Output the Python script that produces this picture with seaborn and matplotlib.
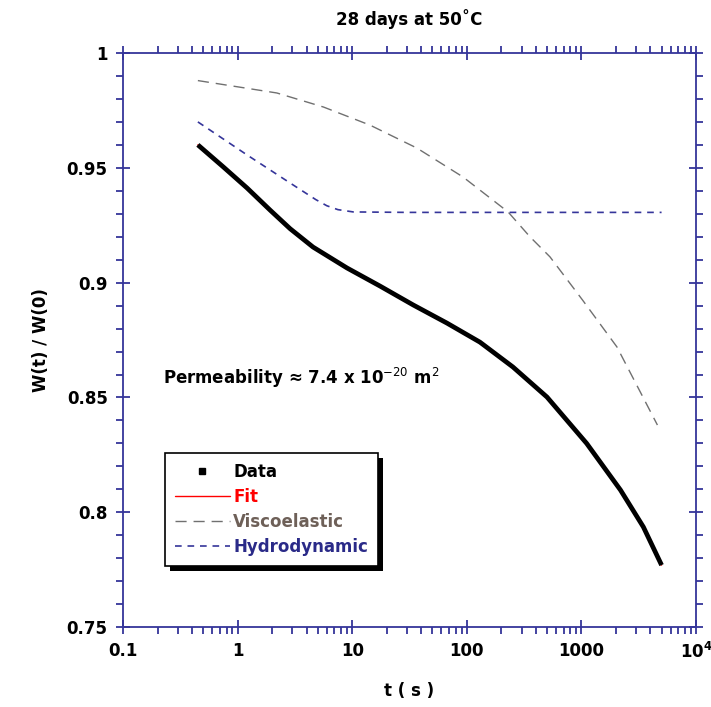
import numpy as np
import pandas as pd
import matplotlib
matplotlib.use("Agg")
import matplotlib.pyplot as plt
import matplotlib.ticker as mticker
import matplotlib.patheffects as pe
from matplotlib.lines import Line2D
import seaborn as sns

# values
data_t = [0.45, 0.75, 1.21, 1.92, 2.87, 4.55, 9.0, 17.5, 34, 67, 130, 252, 500, 1110, 2190, 3470, 5000]
data_w = [0.960, 0.9504, 0.9412, 0.9316, 0.9235, 0.9155, 0.9064, 0.8985, 0.8903, 0.8824, 0.8741,
          0.8633, 0.8502, 0.830, 0.8097, 0.7936, 0.777]

visco_t = [0.45, 2.2, 5.6, 14.3, 36.7, 92.7, 229, 355, 532, 1023, 2040, 4600]
visco_w = [0.988, 0.9826, 0.9765, 0.9686, 0.9586, 0.946, 0.9308, 0.920, 0.9112, 0.8924, 0.872, 0.838]

hydro_t = [0.45, 1.21, 2.87, 4.8, 6.0, 7.5, 10.2, 30, 100, 1000, 5000]
hydro_w = [0.970, 0.9556, 0.9434, 0.9362, 0.9335, 0.9318, 0.9308, 0.9306, 0.9306, 0.9306, 0.9306]

x_ticks = [0.1, 1, 10, 100, 1000, 10000]
x_labels = ["0.1", "1", "10", "100", "1000", r"$\mathregular{10^4}$"]
y_ticks = [0.75, 0.8, 0.85, 0.9, 0.95, 1.0]
y_labels = ["0.75", "0.8", "0.85", "0.9", "0.95", "1"]

axis_col = "#35359a"
visco_col = "#707070"

sns.set_style("white")
plt.rcParams["font.family"] = ["DejaVu Sans"]
plt.rcParams["text.color"] = "black"
plt.rcParams["axes.labelcolor"] = "black"
plt.rcParams["xtick.labelcolor"] = "black"
plt.rcParams["ytick.labelcolor"] = "black"

fig = plt.figure(figsize=(7.11, 7.07), dpi=100)
ax = fig.add_axes([0.173, 0.113, 0.806, 0.812])

df_data = pd.DataFrame({"t": data_t, "w": data_w})
df_visco = pd.DataFrame({"t": visco_t, "w": visco_w})
df_hydro = pd.DataFrame({"t": hydro_t, "w": hydro_w})

sns.lineplot(data=df_visco, x="t", y="w", ax=ax, color=visco_col, lw=1.0,
             linestyle=(0, (8, 5)), legend=False)
sns.lineplot(data=df_hydro, x="t", y="w", ax=ax, color=axis_col, lw=1.2,
             linestyle=(0, (4, 3.5)), legend=False)
sns.lineplot(data=df_data, x="t", y="w", ax=ax, color="red", lw=1.0, legend=False)
sns.lineplot(data=df_data, x="t", y="w", ax=ax, color="black", lw=3.4,
             solid_capstyle="butt", solid_joinstyle="round", legend=False)

ax.set_xscale("log")
ax.set_xlim(0.1, 10000)
ax.set_ylim(0.75, 1.0)
ax.set_xticks(x_ticks)
ax.set_xticklabels(x_labels)
ax.xaxis.set_minor_locator(mticker.LogLocator(base=10, subs=np.arange(2, 10)))
ax.xaxis.set_minor_formatter(mticker.NullFormatter())
ax.set_yticks(y_ticks)
ax.set_yticklabels(y_labels)
ax.yaxis.set_minor_locator(mticker.MultipleLocator(0.01))

for s in ax.spines.values():
    s.set_color(axis_col)
    s.set_linewidth(1.3)
    s.set_visible(True)
ax.tick_params(which="major", direction="inout", length=10, width=1.3, color=axis_col,
               bottom=True, left=True, top=True, right=True, labelsize=12, pad=6)
ax.tick_params(which="minor", direction="out", length=5, width=1.3, color=axis_col,
               bottom=True, left=True, top=True, right=True)
for lab in ax.get_xticklabels() + ax.get_yticklabels():
    lab.set_fontweight("bold")

ax.set_xlabel("t ( s )", fontsize=12, fontweight="bold", labelpad=14)
ax.set_ylabel("W(t) / W(0)", fontsize=12, fontweight="bold", labelpad=12)
ax.set_title("28 days at 50˚C", fontsize=12, fontweight="bold", pad=20)

ax.text(0.07, 0.434, r"Permeability ≈ 7.4 x 10$^{-20}$ m$^{2}$", transform=ax.transAxes,
        fontsize=12, fontweight="bold", va="center", ha="left")

handles = [
    Line2D([], [], color="black", marker="s", markersize=4, linestyle="none"),
    Line2D([], [], color="red", lw=1.0),
    Line2D([], [], color=visco_col, lw=1.0, linestyle=(0, (8, 5))),
    Line2D([], [], color=axis_col, lw=1.2, linestyle=(0, (4, 3.5))),
]
leg = ax.legend(handles, ["Data", "Fit", "Viscoelastic", "Hydrodynamic"],
                loc="upper left", bbox_to_anchor=(0.073, 0.303), borderaxespad=0,
                frameon=True, fancybox=False, framealpha=1,
                prop={"size": 12, "weight": "bold"}, handlelength=3.3, handletextpad=0.2,
                labelspacing=0.42, borderpad=0.6,
                labelcolor=["black", "red", "#6e6058", "#2a2a88"])
frame = leg.get_frame()
frame.set_edgecolor("black")
frame.set_linewidth(1.2)
frame.set_path_effects([pe.SimplePatchShadow(offset=(3.5, -3.5), shadow_rgbFace="black", alpha=1.0),
                        pe.Normal()])

fig.savefig("out.png", dpi=100)
